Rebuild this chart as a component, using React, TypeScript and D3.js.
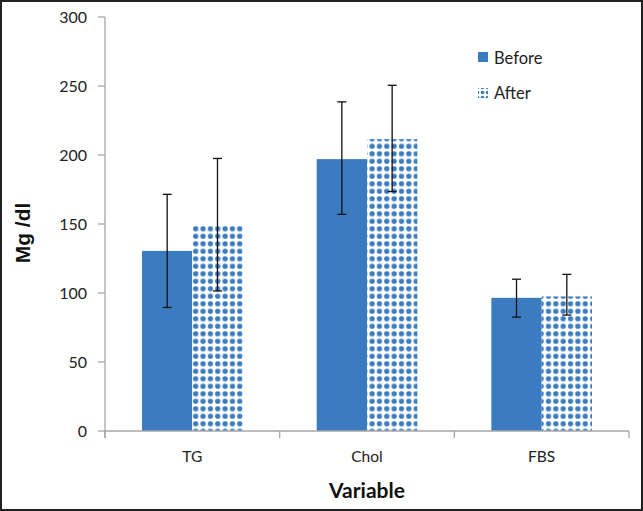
import React, { useEffect } from "react";
import * as d3 from "d3";

const categories = ["TG", "Chol", "FBS"];
const series = ["Before", "After"];
const beforeValues = [130.5, 197, 96.5];
const afterValues = [149.5, 211.5, 97.5];
const beforeErrLow = [89.5, 157, 82.5];
const beforeErrHigh = [171.5, 238.5, 110];
const afterErrLow = [101.5, 173.5, 84];
const afterErrHigh = [197.5, 250.5, 113.5];
const yTicks = [0, 50, 100, 150, 200, 250, 300];

const W = 643;
const H = 511;
const margin = { left: 105, right: 14, top: 17, bottom: 80 };
const BLUE = "#3b7bc0";
const FONT = "Lato, 'Open Sans', sans-serif";

export default function App() {
  useEffect(() => {
    document.body.style.margin = "0";
  }, []);

  const x0 = margin.left;
  const x1 = W - margin.right;
  const y = d3.scaleLinear().domain([0, 300]).range([H - margin.bottom, margin.top]);
  const xBand = d3.scaleBand<string>().domain(categories).range([x0, x1]).paddingInner(0).paddingOuter(0);
  const bw = xBand.bandwidth();
  const pad = bw * 0.212;
  const inner = d3.scaleBand<string>().domain(series).range([pad, bw - pad]).padding(0);
  const barW = inner.bandwidth();
  const axisColor = "#a6a6a6";
  const yBase = y(0);

  const data = [
    { name: "Before", values: beforeValues, lo: beforeErrLow, hi: beforeErrHigh, fill: BLUE },
    { name: "After", values: afterValues, lo: afterErrLow, hi: afterErrHigh, fill: "url(#dots)" },
  ];

  return (
    <svg width={W} height={H} style={{ position: "absolute", left: 0, top: 0, background: "#fff" }}>
      <defs>
        <pattern id="dots" patternUnits="userSpaceOnUse" width={7.35} height={7.5} x={1}>
          <rect width={7.35} height={7.5} fill="#fff" />
          <circle cx={3.6} cy={3.75} r={2.65} fill={BLUE} />
        </pattern>
        <pattern id="dotsLegend" patternUnits="userSpaceOnUse" width={5} height={5}>
          <rect width={5} height={5} fill="#fff" />
          <circle cx={2.5} cy={2.5} r={1.8} fill={BLUE} />
        </pattern>
      </defs>
      <rect x={1} y={1} width={W - 2} height={H - 2} fill="#fff" stroke="#222" strokeWidth={2} />

      {data.map((s) =>
        categories.map((c, i) => {
          const bx = (xBand(c) as number) + (inner(s.name) as number);
          const top = y(s.values[i]);
          return (
            <rect key={s.name + c} x={bx} y={top} width={barW} height={yBase - top} fill={s.fill} />
          );
        })
      )}

      {data.map((s) =>
        categories.map((c, i) => {
          const cx = (xBand(c) as number) + (inner(s.name) as number) + barW / 2;
          const yl = y(s.lo[i]);
          const yh = y(s.hi[i]);
          return (
            <g key={"e" + s.name + c} stroke="#111" strokeWidth={1.3}>
              <line x1={cx} x2={cx} y1={yl} y2={yh} />
              <line x1={cx - 4.5} x2={cx + 4.5} y1={yl} y2={yl} />
              <line x1={cx - 4.5} x2={cx + 4.5} y1={yh} y2={yh} />
            </g>
          );
        })
      )}

      <line x1={x0} x2={x0} y1={y(300)} y2={yBase + 7} stroke={axisColor} strokeWidth={1.3} />
      {yTicks.map((t) => (
        <g key={"yt" + t}>
          <line x1={x0 - 7} x2={x0} y1={y(t)} y2={y(t)} stroke={axisColor} strokeWidth={1.3} />
          <text x={87} y={y(t)} dy="0.35em" textAnchor="end" fontFamily={FONT} fontSize={16} fill="#222">
            {t}
          </text>
        </g>
      ))}

      <line x1={x0} x2={x1} y1={yBase} y2={yBase} stroke={axisColor} strokeWidth={1.3} />
      {[...categories.map((c) => xBand(c) as number), x1].map((xv, i) => (
        <line key={"xt" + i} x1={xv} x2={xv} y1={yBase} y2={yBase + 7} stroke={axisColor} strokeWidth={1.3} />
      ))}
      {categories.map((c) => (
        <text
          key={"xl" + c}
          x={(xBand(c) as number) + bw / 2}
          y={457}
          dy="0.35em"
          textAnchor="middle"
          fontFamily={FONT}
          fontSize={15.5}
          fill="#222"
        >
          {c}
        </text>
      ))}

      <text x={(x0 + x1) / 2} y={491} dy="0.35em" textAnchor="middle" fontFamily={FONT} fontWeight="bold" fontSize={21} fill="#111">
        Variable
      </text>
      <text
        transform={`translate(23,233) rotate(-90)`}
        dy="0.35em"
        textAnchor="middle"
        fontFamily="'Liberation Sans', Arial, sans-serif"
        fontWeight="bold"
        fontSize={21}
        fill="#111"
      >
        Mg /dl
      </text>

      <rect x={478} y={52} width={10} height={10} fill={BLUE} />
      <text x={494} y={58} dy="0.35em" fontFamily={FONT} fontSize={16.5} fill="#222">
        Before
      </text>
      <rect x={478} y={88} width={10} height={10} fill="url(#dotsLegend)" />
      <text x={494} y={93} dy="0.35em" fontFamily={FONT} fontSize={16.5} fill="#222">
        After
      </text>
    </svg>
  );
}
